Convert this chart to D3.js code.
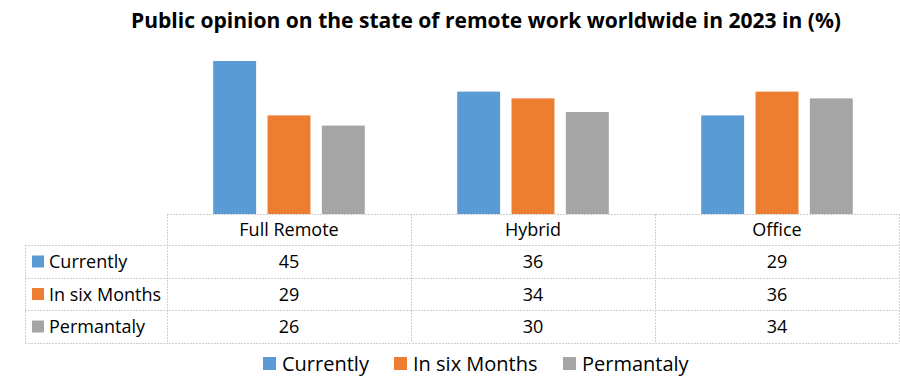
<!DOCTYPE html>
<html>
<head>
<meta charset="utf-8">
<script src="https://cdn.jsdelivr.net/npm/d3@7"></script>
<style>
  body { margin: 0; background: #fff; }
  text { font-family: "Open Sans", Lato, sans-serif; fill: #000; }
</style>
</head>
<body>
<svg id="chart" width="900" height="385"></svg>
<script>
var categories = ['Full Remote', 'Hybrid', 'Office'];
var seriesNames = ['Currently', 'In six Months', 'Permantaly'];
var currently = [45, 36, 29];
var inSixMonths = [29, 34, 36];
var permantaly = [26, 30, 34];
var colors = ['#5b9bd5', '#ed7d31', '#a5a5a5'];

var allSeries = [currently, inSixMonths, permantaly];

var width = 900, height = 385;
var margin = { top: 40, left: 167, right: 1, tableLeft: 25 };
var baseY = 214;
var rowH = [31, 33, 32, 33];   // header row + 3 data rows

var svg = d3.select('#chart');

// Title
svg.append('text')
    .attr('x', 486)
    .attr('y', 28)
    .attr('text-anchor', 'middle')
    .attr('textLength', 710)
    .attr('lengthAdjust', 'spacingAndGlyphs')
    .style('font-size', '21px')
    .style('font-weight', 'bold')
    .text('Public opinion on the state of remote work worldwide in 2023 in (%)');

var x0 = d3.scaleBand()
    .domain(categories)
    .range([margin.left, width - margin.right])
    .paddingInner(0)
    .paddingOuter(0);

var x1 = d3.scaleBand()
    .domain(seriesNames)
    .range([0, x0.bandwidth()])
    .paddingInner(0.21)
    .paddingOuter(0.85);

var y = d3.scaleLinear()
    .domain([0, 45])
    .range([baseY, 61]);

// Bars
allSeries.forEach(function(vals, s) {
    svg.append('g')
        .selectAll('rect')
        .data(vals)
        .enter().append('rect')
            .attr('x', function(d, i) { return x0(categories[i]) + x1(seriesNames[s]); })
            .attr('y', function(d) { return y(d); })
            .attr('width', x1.bandwidth())
            .attr('height', function(d) { return baseY - y(d); })
            .attr('fill', colors[s]);
});

// Table grid
var grid = svg.append('g')
    .attr('stroke', '#d0d0d0')
    .attr('stroke-width', 1)
    .attr('stroke-dasharray', '2,1')
    .attr('fill', 'none');

var rowY = [baseY];
rowH.forEach(function(h) { rowY.push(rowY[rowY.length - 1] + h); });

// baseline / header top
grid.append('line')
    .attr('x1', margin.left).attr('x2', width - margin.right)
    .attr('y1', baseY + 0.5).attr('y2', baseY + 0.5);

for (var r = 1; r < rowY.length; r++) {
    grid.append('line')
        .attr('x1', margin.tableLeft).attr('x2', width - margin.right)
        .attr('y1', rowY[r] + 0.5).attr('y2', rowY[r] + 0.5);
}

// vertical lines
var vx = categories.map(function(c) { return x0(c); }).concat([width - margin.right]);
vx.forEach(function(xv) {
    grid.append('line')
        .attr('x1', Math.round(xv) + 0.5).attr('x2', Math.round(xv) + 0.5)
        .attr('y1', baseY)
        .attr('y2', rowY[rowY.length - 1]);
});
grid.append('line')
    .attr('x1', margin.tableLeft + 0.5).attr('x2', margin.tableLeft + 0.5)
    .attr('y1', rowY[1]).attr('y2', rowY[rowY.length - 1]);

// Header labels
categories.forEach(function(c) {
    svg.append('text')
        .attr('x', x0(c) + x0.bandwidth() / 2)
        .attr('y', rowY[0] + 22)
        .attr('text-anchor', 'middle')
        .style('font-size', '18px')
        .text(c);
});

// Data rows
seriesNames.forEach(function(name, s) {
    var top = rowY[s + 1], bottom = rowY[s + 2];
    var mid = (top + bottom) / 2;

    svg.append('rect')
        .attr('x', 32).attr('y', mid - 6)
        .attr('width', 12).attr('height', 12)
        .attr('fill', colors[s]);

    svg.append('text')
        .attr('x', 49)
        .attr('y', mid + 6.5)
        .style('font-size', '18px')
        .text(name);

    allSeries[s].forEach(function(v, i) {
        svg.append('text')
            .attr('x', x0(categories[i]) + x0.bandwidth() / 2)
            .attr('y', mid + 6.5)
            .attr('text-anchor', 'middle')
            .style('font-size', '18px')
            .text(v);
    });
});

// Legend
var legendX = [263, 394, 563];
var legend = svg.append('g');
seriesNames.forEach(function(name, s) {
    legend.append('rect')
        .attr('x', legendX[s]).attr('y', 357)
        .attr('width', 13).attr('height', 13)
        .attr('fill', colors[s]);
    legend.append('text')
        .attr('x', legendX[s] + 19)
        .attr('y', 371)
        .style('font-size', '20px')
        .text(name);
});
</script>
</body>
</html>
